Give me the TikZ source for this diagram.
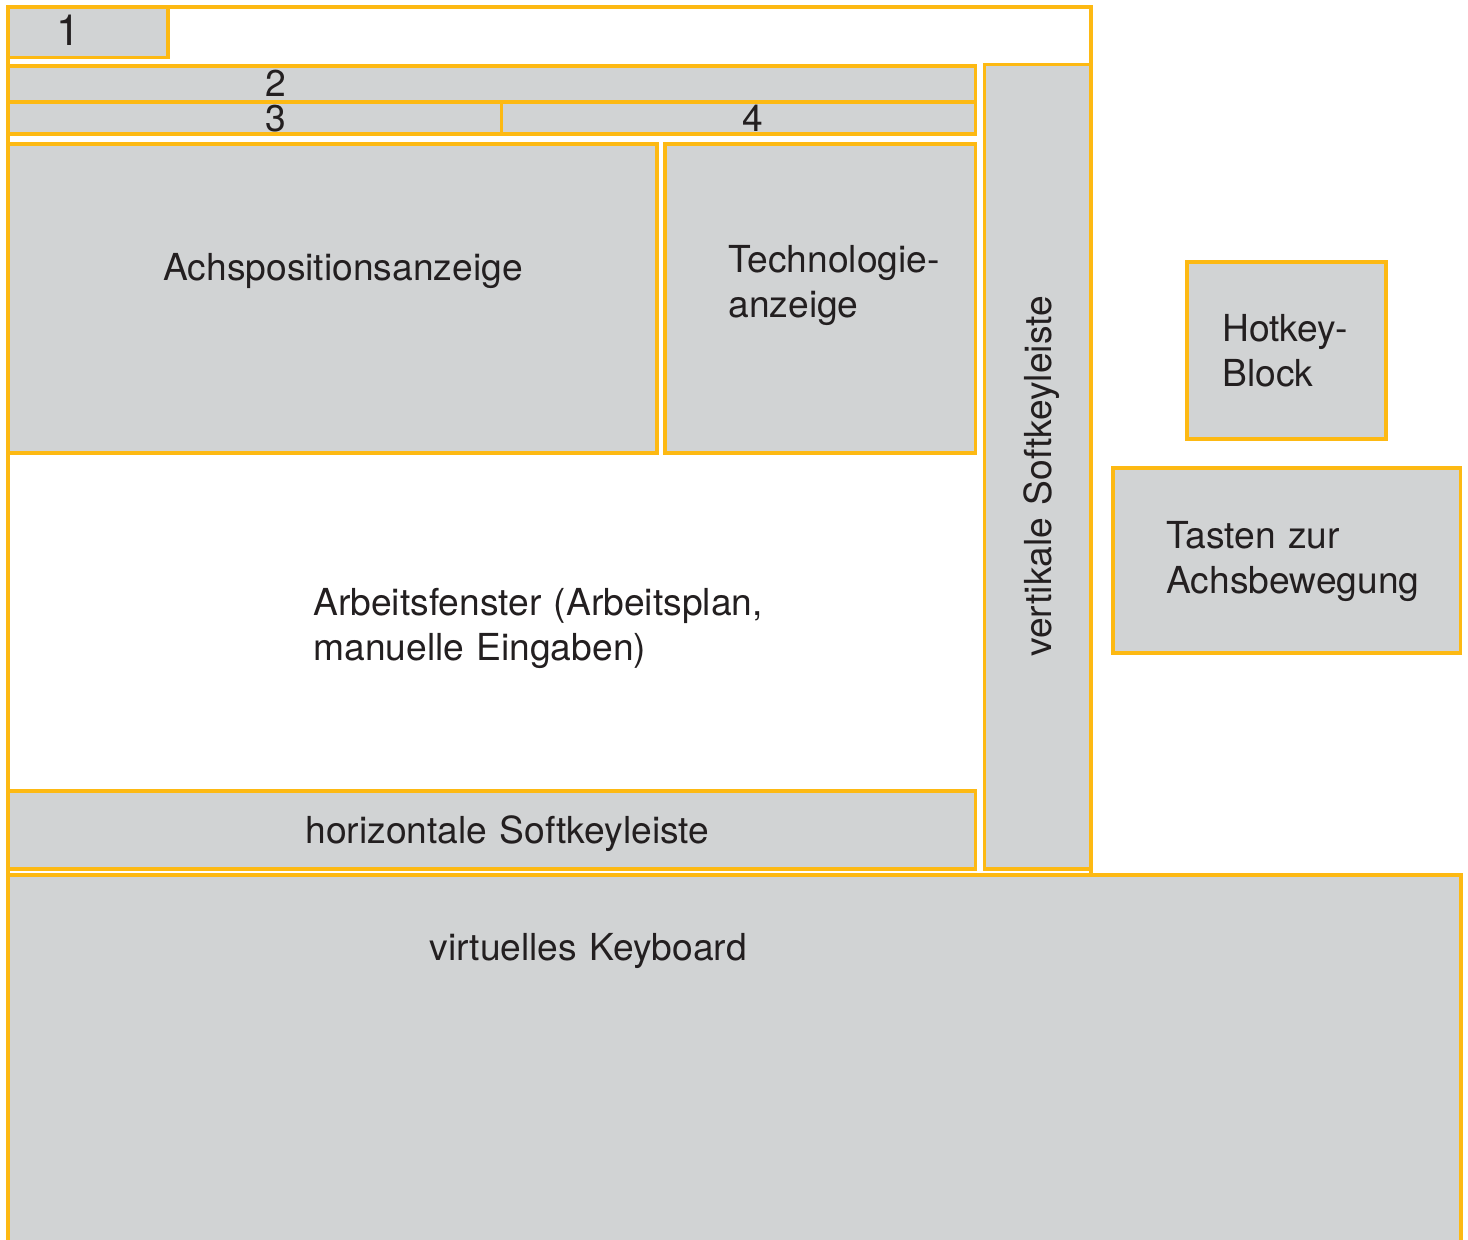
\documentclass[tikz,border=0pt]{standalone}
\usepackage{fontspec}
\setmainfont{TeX Gyre Heros}
\definecolor{frameyellow}{HTML}{FDB913}
\definecolor{panelgray}{HTML}{D1D3D4}
\definecolor{inkblack}{HTML}{231F20}
\tikzset{
  every node/.style={
    font=\fontsize{18.6}{22.5}\selectfont,
    text=inkblack,
    inner sep=0pt
  },
  screen/.style={
    draw=frameyellow,
    line width=1.9pt,
    fill=white
  },
  panel/.style={
    draw=frameyellow,
    line width=1.9pt,
    fill=panelgray
  },
  caption/.style={
    anchor=base west,
    align=left,
    text width=10cm
  },
  number/.style={
    anchor=base
  }
}
\begin{document}
\begin{tikzpicture}[x=0.5pt,y=-0.5pt]
  \useasboundingbox (0,0) rectangle (1468,1239);
  % Bildschirm
  \draw[screen] (8,7) rectangle (1091,875);
  \draw[panel] (8,7) rectangle (168,57.5);
  \draw[panel] (8,66) rectangle (975.5,102);
  \draw[panel] (8,102) rectangle (501.5,133.7);
  \draw[panel] (501.5,102) rectangle (975.5,133.7);
  \draw[panel] (8,144) rectangle (657,453);
  \draw[panel] (665,144) rectangle (975.5,453);
  \draw[panel] (8,791) rectangle (975.5,869);
  \draw[panel] (984.5,64.5) rectangle (1091,869);
  % Bedienfeld rechts
  \draw[panel] (1187,262) rectangle (1386,439);
  \draw[panel] (1113,468) rectangle (1460.5,653);
  % Keyboard (unten offen)
  \fill[panelgray] (8,875) rectangle (1461,1245);
  \draw[frameyellow, line width=1.9pt] (8,1245) |- (1461,875) -- (1461,1245);

  \node[number, font=\fontsize{21.5}{24}\selectfont] (n1) at (68,45) {1};
  \node[number] (n2) at (276,96) {2};
  \node[number] (n3) at (276,131) {3};
  \node[number] (n4) at (753,131) {4};
  \node[caption] (achs) at (163,280) {Achspositionsanzeige};
  \node[caption] (techno) at (728,272) {Technologie-\\anzeige};
  \node[caption] (arbeit) at (313,615) {Arbeitsfenster (Arbeitsplan,\\manuelle Eingaben)};
  \node[caption] (hsoft) at (305,843) {horizontale Softkeyleiste};
  \node[caption, rotate=90] (vsoft) at (1051,657) {vertikale Softkeyleiste};
  \node[caption] (hotkey) at (1222,341) {Hotkey-\\Block};
  \node[caption] (tasten) at (1166,548) {Tasten zur\\Achsbewegung};
  \node[caption] (keyboard) at (429,960) {virtuelles Keyboard};
\end{tikzpicture}
\end{document}
